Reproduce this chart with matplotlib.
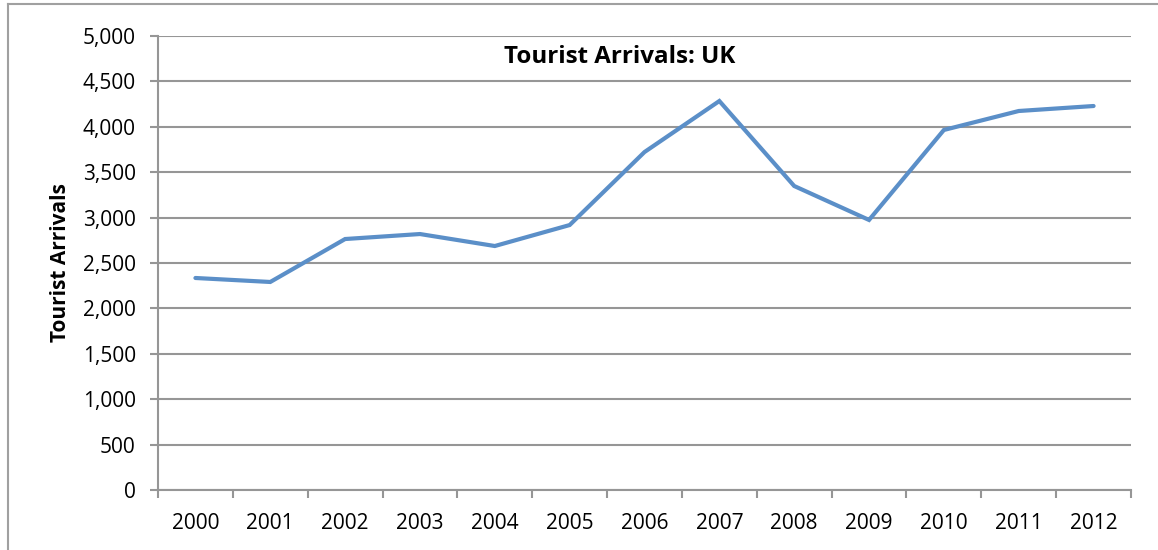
import matplotlib
matplotlib.use("Agg")
import matplotlib.pyplot as plt
from matplotlib.lines import Line2D
from matplotlib.ticker import FuncFormatter, FixedLocator

years = ["2000", "2001", "2002", "2003", "2004", "2005", "2006",
         "2007", "2008", "2009", "2010", "2011", "2012"]
arrivals = [2335, 2291, 2764, 2819, 2687, 2918, 3722,
            4284, 3348, 2974, 3965, 4174, 4229]
y_ticks = [0, 500, 1000, 1500, 2000, 2500, 3000, 3500, 4000, 4500, 5000]

plt.rcParams["font.family"] = ["Open Sans", "DejaVu Sans"]

fig = plt.figure(figsize=(11.58, 5.5), dpi=100)
ax = fig.add_axes([158 / 1158, 1 - 490 / 550, (1131 - 158) / 1158, (490 - 36) / 550])

gray = "#969696"
x = list(range(len(years)))
ax.plot(x, arrivals, color="#5B8FC8", linewidth=3.0, solid_joinstyle="miter",
        solid_capstyle="round", zorder=3)

ax.set_xlim(-0.5, len(years) - 0.5)
ax.set_ylim(0, 5000)
ax.set_yticks(y_ticks)
ax.yaxis.set_major_formatter(FuncFormatter(lambda v, p: f"{int(v):,}"))
ax.yaxis.grid(True, color=gray, linewidth=1.5)
ax.set_axisbelow(True)

ax.set_xticks(x)
ax.set_xticklabels(years)
ax.xaxis.set_minor_locator(FixedLocator([i - 0.5 for i in range(len(years) + 1)]))
ax.tick_params(axis="x", which="major", length=0, pad=16.5, labelsize=15, colors="black")
ax.tick_params(axis="x", which="minor", length=6, width=1.5, color=gray, direction="out")
ax.tick_params(axis="y", length=6, width=1.5, color=gray, pad=10, labelsize=15, labelcolor="black")

for side in ("top", "right"):
    ax.spines[side].set_visible(False)
for side in ("left", "bottom"):
    ax.spines[side].set_color(gray)
    ax.spines[side].set_linewidth(1.5)

ax.set_ylabel("Tourist Arrivals", fontsize=15, fontweight="bold")
ax.yaxis.set_label_coords((61 - 158) / 973, 0.5)
ax.yaxis.label.set_verticalalignment("center")

fig.text(620 / 1158, 1 - 57 / 550, "Tourist Arrivals: UK", ha="center", va="center",
         fontsize=17.4, fontweight="bold")

# outer chart frame
fig.add_artist(Line2D([8 / 1158, 8 / 1158], [0, 1 - 4 / 550], color="#A0A0A0",
                      linewidth=1.5, transform=fig.transFigure))
fig.add_artist(Line2D([8 / 1158, 1], [1 - 4 / 550, 1 - 4 / 550], color="#A0A0A0",
                      linewidth=1.5, transform=fig.transFigure))

fig.savefig("out.png", dpi=100)
